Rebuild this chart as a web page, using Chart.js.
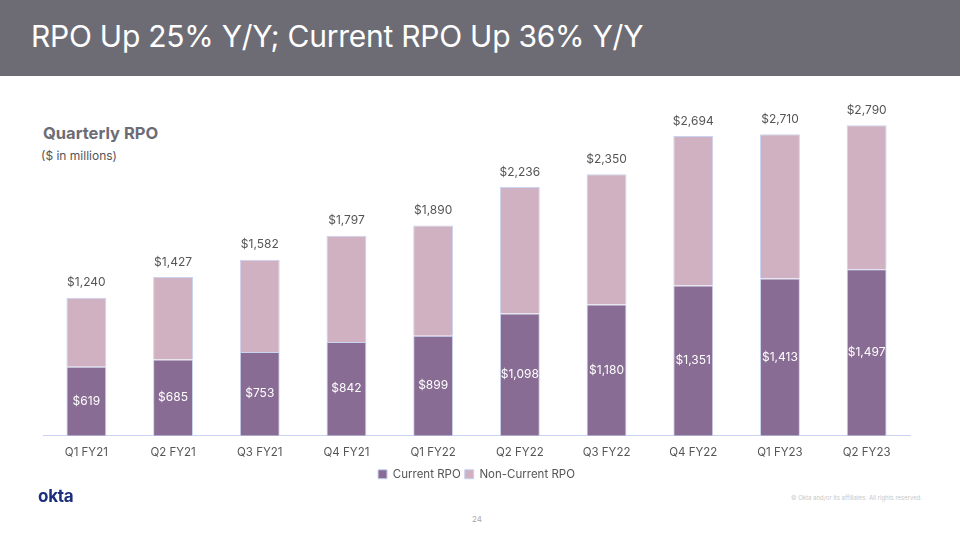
<!DOCTYPE html>
<html>
<head>
<meta charset="utf-8">
<script src="https://cdn.jsdelivr.net/npm/chart.js@4"></script>
<style>
  body { margin: 0; width: 960px; height: 540px; background: #fff; position: relative; overflow: hidden; font-family: Inter, "Noto Sans", sans-serif; }
  .header { position: absolute; left: 0; top: 0; width: 960px; height: 76px; background: #6d6c75; }
  .header h1 { margin: 0; position: absolute; left: 31px; top: 18px; color: #fff; font-weight: 400; font-size: 30px; letter-spacing: -0.25px; }
  .sub1 { position: absolute; left: 43px; top: 123px; font-size: 16.5px; font-weight: 700; color: #6d6c75; }
  .sub2 { position: absolute; left: 41px; top: 148px; font-size: 12px; color: #555; }
  .logo { position: absolute; left: 38px; top: 486px; font-size: 17px; font-weight: 700; color: #1c2f7c; letter-spacing: -0.3px; }
  .copy { position: absolute; left: 791px; top: 494px; font-size: 6px; color: #c8c8c8; }
  .page { position: absolute; left: 472px; top: 514px; font-size: 8px; color: #aaa; }
  #wrap { position: absolute; left: 0; top: 90px; width: 960px; height: 400px; }
</style>
</head>
<body>
<div class="header"><h1>RPO Up 25% Y/Y; Current RPO Up 36% Y/Y</h1></div>
<div class="sub1">Quarterly RPO</div>
<div class="sub2">($ in millions)</div>
<div id="wrap"><canvas id="rpo"></canvas></div>
<div class="logo">okta</div>
<div class="copy">© Okta and/or its affiliates. All rights reserved.</div>
<div class="page">24</div>
<script>
const quarters = ['Q1 FY21', 'Q2 FY21', 'Q3 FY21', 'Q4 FY21', 'Q1 FY22', 'Q2 FY22', 'Q3 FY22', 'Q4 FY22', 'Q1 FY23', 'Q2 FY23'];
const totalRpo = [1240, 1427, 1582, 1797, 1890, 2236, 2350, 2694, 2710, 2790];
const currentRpo = [619, 685, 753, 842, 899, 1098, 1180, 1351, 1413, 1497];
const nonCurrentRpo = totalRpo.map((t, i) => t - currentRpo[i]);

const fmt = v => '$' + v.toLocaleString('en-US');

// labels: current value inside dark segment, total above the bar
const barLabels = {
  id: 'barLabels',
  afterDatasetsDraw(chart) {
    const { ctx } = chart;
    const cur = chart.getDatasetMeta(0).data;
    const non = chart.getDatasetMeta(1).data;
    ctx.save();
    ctx.textAlign = 'center';
    ctx.textBaseline = 'middle';
    ctx.font = '12px Inter, "Noto Sans", sans-serif';
    cur.forEach((bar, i) => {
      ctx.fillStyle = '#ffffff';
      ctx.fillText(fmt(currentRpo[i]), bar.x, (bar.y + bar.base) / 2);
      ctx.fillStyle = '#555';
      ctx.fillText(fmt(totalRpo[i]), non[i].x, non[i].y - 15);
    });
    ctx.restore();
  }
};

new Chart(document.getElementById('rpo'), {
  type: 'bar',
  data: {
    labels: quarters,
    datasets: [
      {
        label: 'Current RPO',
        data: currentRpo,
        backgroundColor: '#896c94',
        borderColor: '#c9d3f2',
        borderWidth: 1,
        barPercentage: 0.5,
        categoryPercentage: 0.92
      },
      {
        label: 'Non-Current RPO',
        data: nonCurrentRpo,
        backgroundColor: '#d0b1c1',
        borderColor: '#c9d3f2',
        borderWidth: 1,
        barPercentage: 0.5,
        categoryPercentage: 0.92
      }
    ]
  },
  options: {
    responsive: true,
    maintainAspectRatio: false,
    animation: false,
    layout: { padding: { left: 43, right: 50, top: 12, bottom: 0 } },
    scales: {
      x: {
        stacked: true,
        grid: { display: false, drawTicks: false },
        border: { color: '#c9d3f2', width: 1 },
        ticks: { color: '#555', font: { size: 11.5, family: 'Inter' }, padding: 10 },
        afterFit(scale) { scale.height -= 5; }
      },
      y: {
        stacked: true,
        display: false,
        min: 0,
        max: 3000
      }
    },
    plugins: {
      legend: {
        position: 'bottom',
        labels: {
          color: '#555',
          font: { size: 11.5, family: 'Inter' },
          boxWidth: 9,
          boxHeight: 9,
          padding: 4
        }
      },
      tooltip: { enabled: false }
    }
  },
  plugins: [barLabels]
});
</script>
</body>
</html>
